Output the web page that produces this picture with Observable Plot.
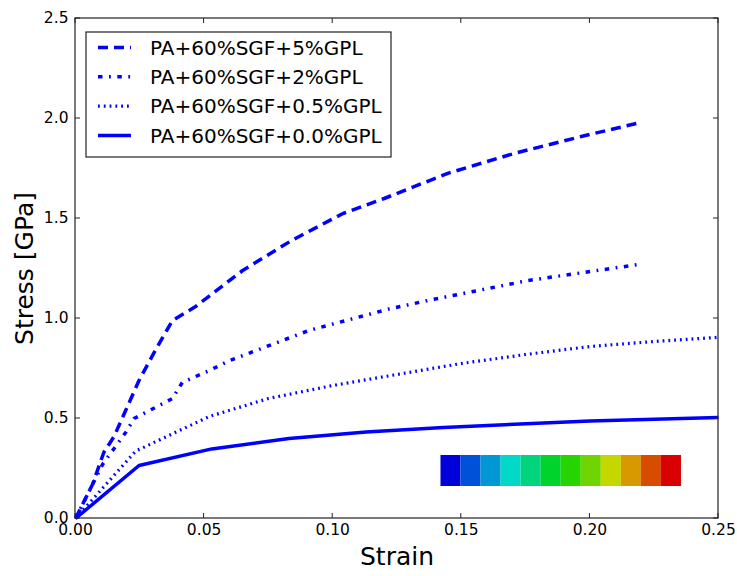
<!DOCTYPE html>
<html><head><meta charset="utf-8">
<script src="https://cdn.jsdelivr.net/npm/d3@7"></script>
<script src="https://cdn.jsdelivr.net/npm/@observablehq/plot@0.6"></script>
<style>body{margin:0;background:#fff}</style>
</head><body><div id="chart"></div>
<script>
// ---- data ----
const seriesNames = ["PA+60%SGF+5%GPL", "PA+60%SGF+2%GPL", "PA+60%SGF+0.5%GPL", "PA+60%SGF+0.0%GPL"];
const strain5  = [0, 0.0066, 0.011, 0.015, 0.0195, 0.0247, 0.031, 0.0377, 0.0467, 0.065, 0.084, 0.104, 0.12, 0.145, 0.171, 0.197, 0.22];
const stress5  = [0, 0.17, 0.33, 0.41, 0.54, 0.69, 0.84, 0.99, 1.06, 1.24, 1.39, 1.525, 1.60, 1.727, 1.827, 1.911, 1.981];
const strain2  = [0, 0.0105, 0.0195, 0.0228, 0.0377, 0.0415, 0.052, 0.06, 0.0907, 0.122, 0.137, 0.176, 0.219];
const stress2  = [0, 0.27, 0.43, 0.50, 0.60, 0.68, 0.74, 0.79, 0.94, 1.048, 1.09, 1.19, 1.27];
const strain05 = [0, 0.0234, 0.052, 0.075, 0.1, 0.125, 0.15, 0.175, 0.2, 0.225, 0.25];
const stress05 = [0, 0.337, 0.51, 0.60, 0.665, 0.72, 0.775, 0.82, 0.86, 0.885, 0.906];
const strain0  = [0, 0.0247, 0.053, 0.083, 0.113, 0.143, 0.173, 0.2, 0.25];
const stress0  = [0, 0.265, 0.348, 0.40, 0.432, 0.455, 0.473, 0.488, 0.505];
const xTicks = [0, 0.05, 0.10, 0.15, 0.20, 0.25];
const yTicks = [0, 0.5, 1.0, 1.5, 2.0, 2.5];
const insetColors = ["#0000d8", "#0050d8", "#0098d4", "#00d8c8", "#00d47c", "#00d42c",
                     "#28d400", "#70d400", "#c4d800", "#d89800", "#d84c00", "#d80000"];

// ---- build ----
const seriesX = [strain5, strain2, strain05, strain0];
const seriesY = [stress5, stress2, stress05, stress0];
const dashes = ["10,6", "4.5,6.5,1.8,6.5", "1.8,4", null];
const widths = [3.5, 3.5, 3.2, 3.5];
const tables = seriesNames.map((name, k) => seriesX[k].map((s, i) => ({series: name, strain: s, stress: seriesY[k][i]})));

const FONT = "DejaVu Sans, sans-serif";

// inset extents (data units)
const inX = [0.1421, 0.2356], inY = [0.16, 0.315];
const segW = (inX[1] - inX[0]) / insetColors.length;

function frameTicks(index, {x, y}, values, dims) {
  const L = dims.marginLeft, R = dims.width - dims.marginRight;
  const T = dims.marginTop, B = dims.height - dims.marginBottom;
  const g = d3.create("svg:g").attr("stroke", "#222").attr("fill", "none");
  g.append("rect").attr("x", L).attr("y", T).attr("width", R - L).attr("height", B - T).attr("stroke-width", 1.2);
  for (const t of xTicks) {
    const px = x(t);
    g.append("line").attr("x1", px).attr("x2", px).attr("y1", B).attr("y2", B - 5);
    g.append("line").attr("x1", px).attr("x2", px).attr("y1", T).attr("y2", T + 5);
  }
  for (const t of yTicks) {
    const py = y(t);
    g.append("line").attr("y1", py).attr("y2", py).attr("x1", L).attr("x2", L + 5);
    g.append("line").attr("y1", py).attr("y2", py).attr("x1", R).attr("x2", R - 5);
  }
  return g.node();
}

function legend(index, scales, values, dims) {
  const L = dims.marginLeft, T = dims.marginTop;
  const g = d3.create("svg:g").attr("text-anchor", "start");
  g.append("rect").attr("x", L + 11).attr("y", T + 14).attr("width", 305).attr("height", 125)
    .attr("fill", "#fff").attr("stroke", "#222").attr("stroke-width", 1.2);
  seriesNames.forEach((name, k) => {
    const cy = T + 29.5 + k * 29.3;
    g.append("line").attr("x1", L + 23).attr("x2", L + 56).attr("y1", cy).attr("y2", cy)
      .attr("stroke", "blue").attr("stroke-width", widths[k]).attr("stroke-dasharray", dashes[k]);
    g.append("text").attr("x", L + 75).attr("y", cy).attr("dy", "0.36em").attr("text-anchor", "start")
      .attr("font-size", 20).attr("fill", "#000").attr("font-family", FONT).text(name);
  });
  return g.node();
}

const chart = Plot.plot({
  width: 737, height: 576,
  marginLeft: 75, marginRight: 19, marginTop: 18, marginBottom: 58,
  style: {fontFamily: FONT, background: "#fff"},
  x: {domain: [0, 0.25]},
  y: {domain: [0, 2.5]},
  marks: [
    Plot.rect(insetColors, {
      x1: (d, i) => inX[0] + i * segW, x2: (d, i) => inX[0] + (i + 1) * segW,
      y1: inY[0], y2: inY[1], fill: d => d
    }),
    ...tables.map((t, k) => Plot.line(t, {
      x: "strain", y: "stress", stroke: "blue", strokeWidth: widths[k],
      strokeDasharray: dashes[k], strokeLinecap: "butt", strokeLinejoin: "miter"
    })),
    Plot.axisX({ticks: xTicks, tickSize: 0, tickPadding: 5, tickFormat: d3.format(".2f"), fontSize: 15.5, label: null, fill: "#000"}),
    Plot.axisY({ticks: yTicks, tickSize: 0, tickPadding: 7, tickFormat: d3.format(".1f"), fontSize: 15.5, label: null, fill: "#000"}),
    Plot.text(["Strain"], {frameAnchor: "bottom", dy: 46, text: d => d, fontSize: 25, fill: "#000", textAnchor: "middle"}),
    Plot.text(["Stress [GPa]"], {frameAnchor: "left", dx: -51, rotate: -90, text: d => d, fontSize: 25, fill: "#000", textAnchor: "middle"}),
    frameTicks,
    legend
  ]
});
document.getElementById("chart").append(chart);
</script>
</body></html>
